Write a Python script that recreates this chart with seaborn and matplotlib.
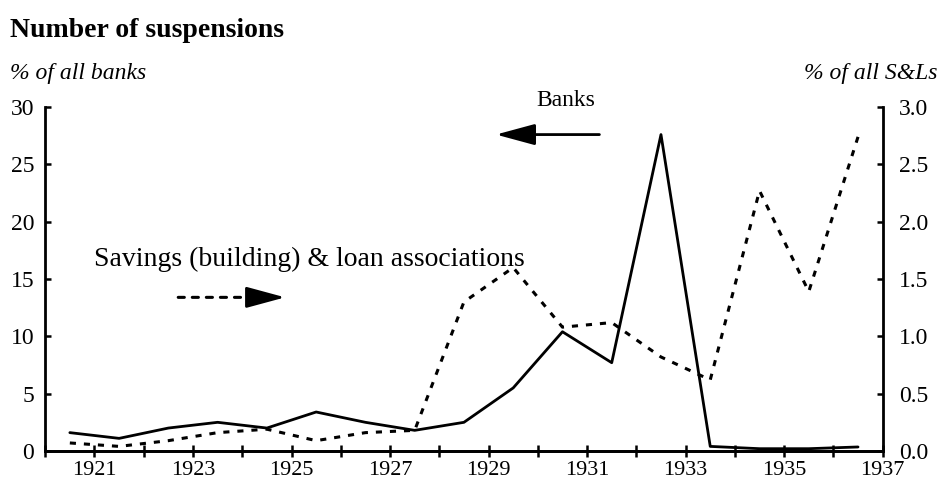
import numpy as np
import pandas as pd
import matplotlib
matplotlib.use("Agg")
import matplotlib.pyplot as plt
import seaborn as sns

# yearly data, plotted at mid-year
years = list(range(1920, 1937))
banks = [1.6, 1.1, 2.0, 2.5, 2.0, 3.4, 2.5, 1.8, 2.5, 5.5, 10.4, 7.7, 27.6, 0.4, 0.2, 0.2, 0.35]
sls = [0.07, 0.04, 0.09, 0.16, 0.19, 0.09, 0.16, 0.18, 1.3, 1.6, 1.08, 1.12, 0.82, 0.62, 2.27, 1.39, 2.74]
left_ticks = [0, 5, 10, 15, 20, 25, 30]
right_ticks = [0.0, 0.5, 1.0, 1.5, 2.0, 2.5, 3.0]
xlabels = list(range(1921, 1938, 2))

df = pd.DataFrame({"year": np.array(years) + 0.5, "banks": banks, "sls": sls})

sns.set_style("ticks")
plt.rcParams["font.family"] = ["Liberation Serif", "DejaVu Serif"]
plt.rcParams.update({"text.color": "black", "axes.edgecolor": "black",
                     "xtick.color": "black", "ytick.color": "black",
                     "axes.labelcolor": "black"})

dotted = (0, (2.0, 2.6))

fig = plt.figure(figsize=(9.42, 4.79), dpi=100)
ax = fig.add_axes([0.048, 0.0585, 0.889, 0.718])
ax2 = ax.twinx()

sns.lineplot(data=df, x="year", y="banks", ax=ax, color="black", linewidth=2)
sns.lineplot(data=df, x="year", y="sls", ax=ax2, color="black", linewidth=2.2,
             linestyle=dotted)

ax.set_xlim(1920, 1937)
ax.set_ylim(0, 30)
ax2.set_ylim(0, 3.0)
ax.set_xticks(range(1920, 1938))
ax.set_xticklabels([str(y) if y in xlabels else "" for y in range(1920, 1938)])
ax.set_yticks(left_ticks)
ax.set_yticklabels([str(t) for t in left_ticks])
ax2.set_yticks(right_ticks)
ax2.set_yticklabels([f"{t:.1f}" for t in right_ticks])
ax.set_xlabel("")
ax.set_ylabel("")
ax2.set_ylabel("")

for a in (ax, ax2):
    a.spines["top"].set_visible(False)
    for s in a.spines.values():
        s.set_linewidth(2)
        s.set_color("black")
ax.spines["right"].set_visible(False)
ax2.spines["left"].set_visible(False)
ax.tick_params(axis="x", direction="inout", length=9, width=1.8, labelsize=16, pad=3)
ax.tick_params(axis="y", direction="in", length=4, width=1.8, labelsize=17, pad=8)
ax2.tick_params(axis="y", direction="in", length=4, width=1.8, labelsize=17, pad=12)

# annotations
head = "-|>,head_length=2.4,head_width=0.65"
ax.text(1930.57, 30.6, "Banks", ha="center", va="center", fontsize=17)
ax.annotate("", xy=(1929.15, 27.6), xytext=(1931.25, 27.6),
            arrowprops=dict(arrowstyle=head, mutation_scale=10,
                            color="black", lw=2, shrinkA=0, shrinkB=0))
ax.text(1921.0, 16.7, "Savings (building) & loan associations", ha="left", va="center",
        fontsize=20)
ax.annotate("", xy=(1924.2, 13.4), xytext=(1922.7, 13.4),
            arrowprops=dict(arrowstyle="-", color="black", lw=2.2, linestyle=dotted,
                            shrinkA=0, shrinkB=0))
ax.annotate("", xy=(1924.87, 13.4), xytext=(1924.2, 13.4),
            arrowprops=dict(arrowstyle=head, mutation_scale=10,
                            color="black", lw=2, shrinkA=0, shrinkB=0))

fig.text(0.011, 0.937, "Number of suspensions", fontsize=20, fontweight="bold",
         ha="left", va="center")
fig.text(0.011, 0.846, "% of all banks", fontsize=17, style="italic", ha="left", va="center")
fig.text(0.995, 0.846, "% of all S&Ls", fontsize=17, style="italic", ha="right", va="center")

fig.savefig("out.png", dpi=100)
